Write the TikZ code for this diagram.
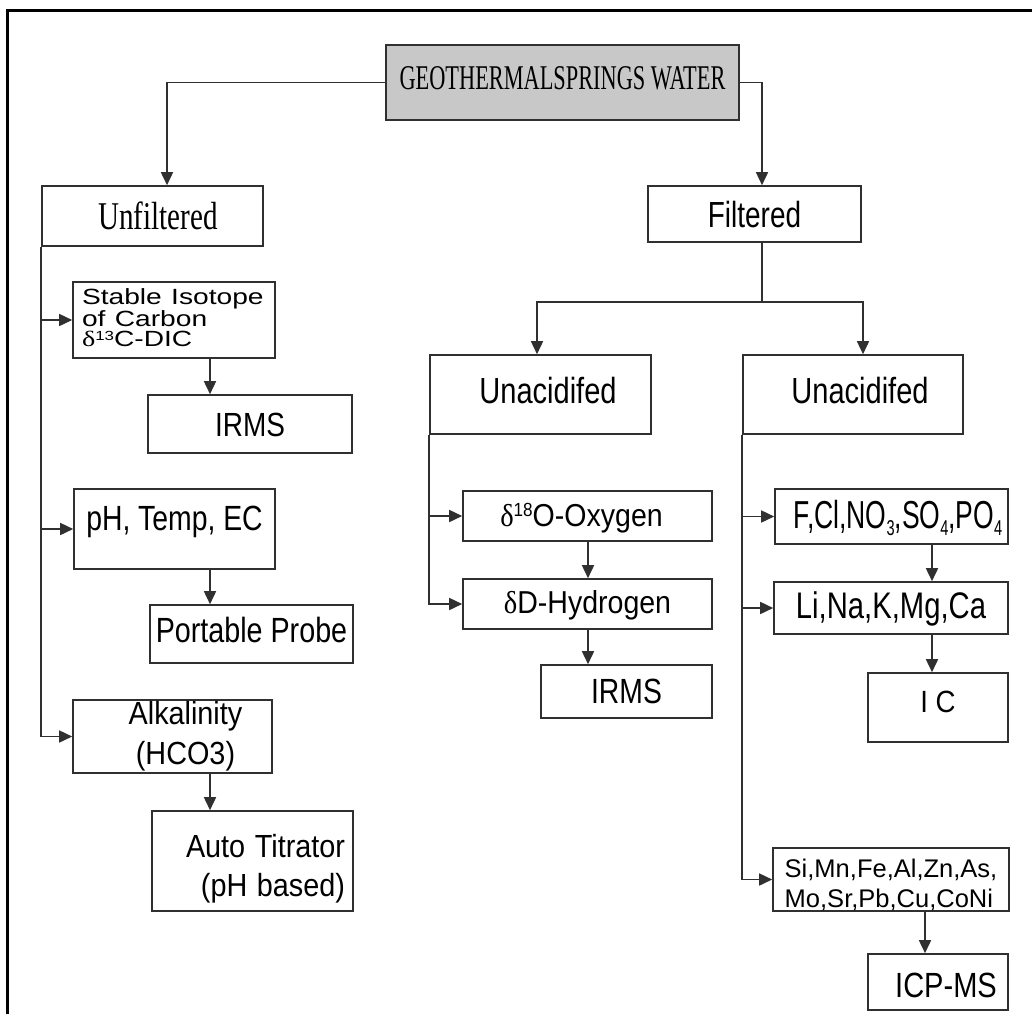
\documentclass[tikz,border=0pt]{standalone}
\usepackage{fontspec}
\setmainfont{Liberation Serif}
\setsansfont{Liberation Sans}
\newfontfamily\grk{Liberation Serif}
\usetikzlibrary{arrows.meta}
\newcommand\hs[2]{\scalebox{#1}[1]{#2}}
\newcommand\dlt{{\grk δ}}
\newcommand\sups[1]{\raisebox{0.3em}{\scalebox{0.6}{#1}}}
\newcommand\subs[1]{\raisebox{-0.18em}{\scalebox{0.55}{#1}}}
\definecolor{lnc}{HTML}{303030}
\definecolor{hdc}{HTML}{C8C8C8}
\begin{document}
\begin{tikzpicture}[x=1pt,y=-1pt,
  box/.style={draw=lnc, line width=1.6pt, inner sep=0pt, font=\sffamily},
  one/.style 2 args={text height=#1, text depth=#2},
  link/.style={draw=lnc, line width=1.6pt},
  arr/.style={draw=lnc, line width=1.6pt, -{Triangle[length=13pt,width=12pt]}}]
\useasboundingbox (0,0) rectangle (1032,1014);
\draw[line width=3pt] (7.5,1014) -- (7.5,11) -- (1032,11);

% top
\node[box, fill=hdc, font=\rmfamily\fontsize{34.7}{40}\selectfont, one={23pt}{8pt},
  minimum width=353pt, minimum height=75pt] (main) at (562.5,82.5) {\hs{0.644}{GEOTHERMALSPRINGS WATER}};
\node[box, font=\rmfamily\fontsize{39.3}{44}\selectfont, one={26pt}{0pt},
  minimum width=221pt, minimum height=60pt] (unf) at (152.5,216) {\hspace*{11pt}\hs{0.74}{Unfiltered}};
\node[box, font=\sffamily\fontsize{36.3}{40}\selectfont, one={26pt}{0pt},
  minimum width=213pt, minimum height=56pt] (filt) at (754.5,214) {\hs{0.77}{Filtered}};
\node[box, font=\sffamily\fontsize{36.3}{40}\selectfont, one={26pt}{9pt},
  minimum width=221pt, minimum height=79pt] (ua1) at (540.5,394.5) {\hspace*{15pt}\hs{0.8}{Unacidifed}};
\node[box, font=\sffamily\fontsize{36.3}{40}\selectfont, one={26pt}{9pt},
  minimum width=220pt, minimum height=79pt] (ua2) at (853,394.5) {\hspace*{14pt}\hs{0.8}{Unacidifed}};

% left column
\node[box, font=\sffamily\fontsize{22}{20.5}\selectfont, text width=184pt, align=left,
  minimum width=202pt, minimum height=76pt] (stab) at (174,320)
  {\hs{1.28}{Stable Isotope}\\\hs{1.28}{of Carbon}\\\hs{1.28}{\dlt\sups{13}C-DIC}\rule[-4pt]{0pt}{4pt}};
\node[box, font=\sffamily\fontsize{33.5}{38}\selectfont, one={24pt}{0pt},
  minimum width=204pt, minimum height=58pt] (irms1) at (250,424) {\hs{0.835}{IRMS}};
\node[box, font=\sffamily\fontsize{35}{40}\selectfont, one={25pt}{23pt},
  minimum width=201pt, minimum height=80pt] (ph) at (174.5,529) {\hs{0.81}{pH, Temp, EC}};
\node[box, font=\sffamily\fontsize{35}{40}\selectfont, one={25pt}{9pt},
  minimum width=203pt, minimum height=58pt] (port) at (251.5,634) {\hs{0.82}{Portable Probe}};
\node[box, font=\sffamily\fontsize{32}{40}\selectfont, align=center,
  minimum width=199pt, minimum height=73pt] (alk) at (172.5,736.5)
  {\hspace*{26pt}\hs{0.9}{Alkalinity}\\\hspace*{26pt}\hs{0.9}{(HCO3)}};
\node[box, font=\sffamily\fontsize{32}{39}\selectfont, text width=185pt, align=right,
  minimum width=201pt, minimum height=100pt] (auto) at (252.5,861)
  {\rule{0pt}{38pt}\hs{0.9}{Auto Titrator}\\\hs{0.9}{(pH based)}};

% middle column
\node[box, font=\sffamily\fontsize{31.7}{36}\selectfont, one={23pt}{3pt},
  minimum width=249pt, minimum height=50pt] (d18) at (587.5,516) {\hs{0.9}{\dlt\sups{18}O-Oxygen}\hspace*{12pt}};
\node[box, font=\sffamily\fontsize{31.7}{36}\selectfont, one={23pt}{5pt},
  minimum width=249pt, minimum height=50pt] (dD) at (587.5,604) {\hs{0.9}{\dlt D-Hydrogen}};
\node[box, font=\sffamily\fontsize{35}{40}\selectfont, one={25pt}{2pt},
  minimum width=171pt, minimum height=53pt] (irms2) at (626.5,691.5) {\hs{0.81}{IRMS}};

% right column
\node[box, font=\sffamily\fontsize{39}{44}\selectfont, one={29pt}{6pt},
  minimum width=233pt, minimum height=55pt] (f) at (891.5,516.5)
  {\hspace*{13pt}\hs{0.68}{F,Cl,NO\subs{3},SO\subs{4},PO\subs{4}}};
\node[box, font=\sffamily\fontsize{37}{42}\selectfont, one={26.5pt}{6.5pt},
  minimum width=234pt, minimum height=52pt] (li) at (891,608) {\hs{0.79}{Li,Na,K,Mg,Ca}};
\node[box, font=\sffamily\fontsize{30.7}{36}\selectfont, one={22pt}{13pt},
  minimum width=140pt, minimum height=69pt] (ic) at (938,707.5) {\hs{0.9}{I C}};
\node[box, font=\sffamily\fontsize{25.5}{30}\selectfont, align=left,
  minimum width=236pt, minimum height=61pt] (si) at (891,879.5)
  {\rule{0pt}{30pt}Si,Mn,Fe,Al,Zn,As,\\Mo,Sr,Pb,Cu,CoNi};
\node[box, font=\sffamily\fontsize{35}{40}\selectfont, one={30pt}{0pt},
  minimum width=140pt, minimum height=56pt] (icp) at (938,982) {\hspace*{16pt}\hs{0.83}{ICP-MS}};

% connectors: top level
\draw[arr] (main.west) -| ([xshift=14.5pt]unf.north);
\draw[arr] (main.east) -| ([xshift=7.5pt]filt.north);
\coordinate (fs) at (762,302);
\draw[link] ([xshift=7.5pt]filt.south) -- (fs);
\draw[arr] (fs) -| ([xshift=-3.5pt]ua1.north);
\draw[arr] (fs) -| ([xshift=10pt]ua2.north);

% left trunk
\draw[arr] (unf.south west) |- (alk.west);
\draw[arr] (unf.south west |- stab.west) -- (stab.west);
\draw[arr] (unf.south west |- ph.west) -- (ph.west);
\coordinate (xl) at (210,0);
\draw[arr] (stab.south -| xl) -- (irms1.north -| xl);
\draw[arr] (ph.south -| xl) -- (port.north -| xl);
\draw[arr] (alk.south -| xl) -- (auto.north -| xl);

% middle trunk
\draw[arr] (ua1.south west) |- (dD.west);
\draw[arr] (ua1.south west |- d18.west) -- (d18.west);
\coordinate (xm) at (588,0);
\draw[arr] (d18.south -| xm) -- (dD.north -| xm);
\draw[arr] (dD.south -| xm) -- (irms2.north -| xm);

% right trunk
\draw[arr] (ua2.south west) |- (si.west);
\draw[arr] (ua2.south west |- f.west) -- (f.west);
\draw[arr] (ua2.south west |- li.west) -- (li.west);
\coordinate (xr) at (932,0);
\draw[arr] (f.south -| xr) -- (li.north -| xr);
\draw[arr] (li.south -| xr) -- (ic.north -| xr);
\coordinate (xs) at (925,0);
\draw[arr] (si.south -| xs) -- (icp.north -| xs);
\end{tikzpicture}
\end{document}
